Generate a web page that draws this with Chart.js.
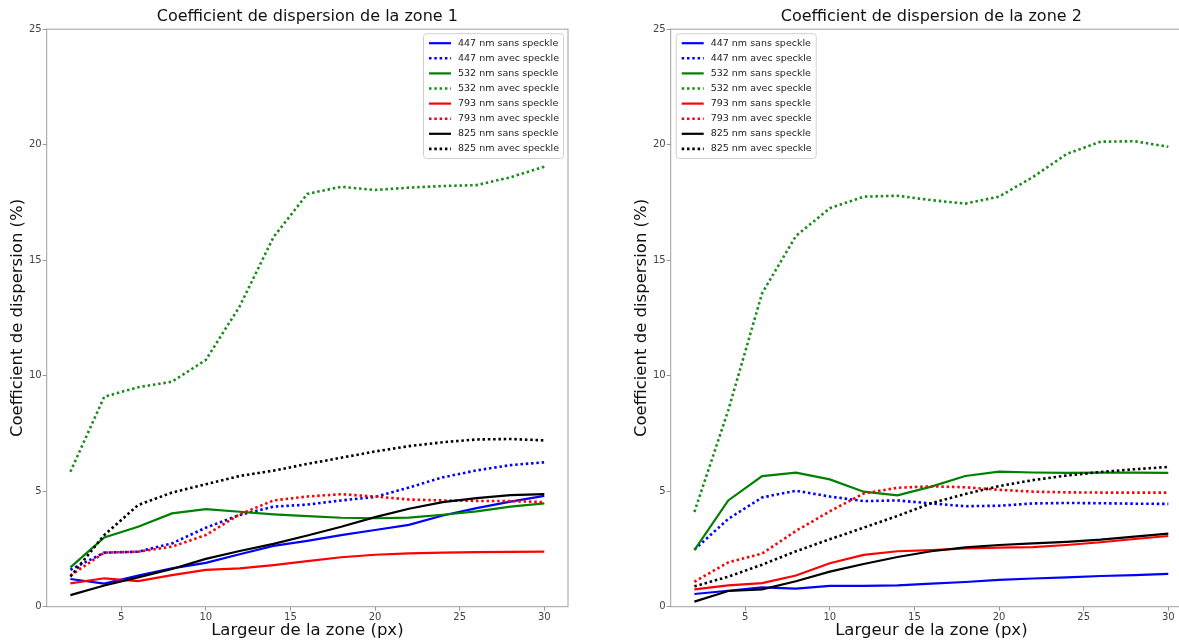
<!DOCTYPE html>
<html>
<head>
<meta charset="utf-8">
<script src="https://cdn.jsdelivr.net/npm/chart.js@4.4.0/dist/chart.umd.min.js"></script>
<style>
html, body { margin: 0; padding: 0; background: #fff; overflow: hidden; }
#wrap { position: relative; width: 1179px; height: 642px; overflow: hidden; }
.box { position: absolute; top: 0; width: 580px; height: 642px; }
#box1 { left: 0; }
#box2 { left: 624px; }
</style>
</head>
<body>
<div id="wrap">
  <div class="box" id="box1"><canvas id="zone1" width="580" height="642"></canvas></div>
  <div class="box" id="box2"><canvas id="zone2" width="580" height="642"></canvas></div>
</div>
<script>
// x values (largeur de la zone, px) and tick labels
const largeurs = [2, 4, 6, 8, 10, 12, 14, 16, 18, 20, 22, 24, 26, 28, 30];
const xTicks = [5, 10, 15, 20, 25, 30];
const yTicks = [0, 5, 10, 15, 20, 25];

// Zone 1
const z1_447_sans = [1.2, 1.0, 1.35, 1.66, 1.9, 2.27, 2.63, 2.85, 3.1, 3.32, 3.54, 3.95, 4.27, 4.55, 4.8];
const z1_447_avec = [1.6, 2.34, 2.38, 2.74, 3.42, 3.97, 4.33, 4.42, 4.6, 4.75, 5.16, 5.6, 5.9, 6.13, 6.25];
const z1_532_sans = [1.7, 3.0, 3.46, 4.04, 4.22, 4.11, 4.0, 3.92, 3.85, 3.83, 3.86, 3.98, 4.13, 4.33, 4.47];
const z1_532_avec = [5.84, 9.09, 9.5, 9.74, 10.68, 13.0, 16.0, 17.87, 18.18, 18.04, 18.14, 18.21, 18.25, 18.59, 19.05];
const z1_793_sans = [1.01, 1.23, 1.11, 1.37, 1.59, 1.66, 1.8, 1.97, 2.14, 2.25, 2.31, 2.34, 2.36, 2.37, 2.38];
const z1_793_avec = [1.35, 2.34, 2.38, 2.6, 3.1, 4.0, 4.6, 4.77, 4.87, 4.77, 4.64, 4.6, 4.58, 4.57, 4.53];
const z1_825_sans = [0.5, 0.92, 1.27, 1.63, 2.07, 2.41, 2.72, 3.08, 3.46, 3.88, 4.24, 4.53, 4.7, 4.83, 4.87];
const z1_825_avec = [1.3, 3.1, 4.4, 4.94, 5.3, 5.66, 5.89, 6.18, 6.45, 6.72, 6.95, 7.12, 7.24, 7.26, 7.2];

// Zone 2
const z2_447_sans = [0.55, 0.69, 0.84, 0.78, 0.9, 0.9, 0.92, 1.0, 1.07, 1.16, 1.22, 1.27, 1.33, 1.37, 1.42];
const z2_447_avec = [2.47, 3.8, 4.73, 5.02, 4.77, 4.57, 4.6, 4.47, 4.35, 4.37, 4.47, 4.49, 4.48, 4.46, 4.45];
const z2_532_sans = [2.45, 4.6, 5.65, 5.8, 5.51, 4.98, 4.82, 5.2, 5.66, 5.85, 5.81, 5.79, 5.8, 5.8, 5.79];
const z2_532_avec = [4.1, 8.5, 13.57, 16.05, 17.25, 17.75, 17.79, 17.6, 17.45, 17.75, 18.6, 19.6, 20.13, 20.15, 19.91];
const z2_793_sans = [0.75, 0.92, 1.02, 1.35, 1.88, 2.24, 2.4, 2.45, 2.52, 2.56, 2.58, 2.67, 2.79, 2.93, 3.06];
const z2_793_avec = [1.08, 1.92, 2.3, 3.28, 4.13, 4.9, 5.15, 5.21, 5.17, 5.06, 4.98, 4.95, 4.94, 4.94, 4.94];
const z2_825_sans = [0.22, 0.68, 0.75, 1.1, 1.52, 1.85, 2.15, 2.4, 2.57, 2.67, 2.74, 2.81, 2.9, 3.03, 3.16];
const z2_825_avec = [0.88, 1.3, 1.82, 2.4, 2.92, 3.42, 3.93, 4.48, 4.88, 5.22, 5.48, 5.68, 5.83, 5.95, 6.05];

const FONT = "'DejaVu Sans', sans-serif";
const DOTS = [2.5, 2.8];

function serie(label, values, color, dotted, i) {
    return {
        label: label,
        data: values.map((v, k) => ({ x: largeurs[k], y: v })),
        borderColor: color,
        backgroundColor: color,
        borderWidth: dotted ? 2.6 : 2.2,
        borderDash: dotted ? DOTS : [],
        pointRadius: 0,
        tension: 0,
        fill: false,
        order: 8 - i // last series on top, like matplotlib
    };
}

function buildSets(s) {
    return [
        serie('447 nm sans speckle', s[0], '#0000ff', false, 0),
        serie('447 nm avec speckle', s[1], '#0000ff', true, 1),
        serie('532 nm sans speckle', s[2], '#008000', false, 2),
        serie('532 nm avec speckle', s[3], '#1a8c1a', true, 3),
        serie('793 nm sans speckle', s[4], '#ff0000', false, 4),
        serie('793 nm avec speckle', s[5], '#ff0000', true, 5),
        serie('825 nm sans speckle', s[6], '#000000', false, 6),
        serie('825 nm avec speckle', s[7], '#000000', true, 7)
    ];
}

// frame around the plot area (drawn above the lines, like the spines)
const frame = {
    id: 'frame',
    afterDatasetsDraw(chart) {
        const { ctx, chartArea: a } = chart;
        ctx.save();
        ctx.strokeStyle = '#a0a0a0';
        ctx.lineWidth = 1;
        ctx.strokeRect(a.left, a.top, a.right - a.left, a.bottom - a.top);
        ctx.restore();
    }
};

// legend drawn inside the plot area
const insideLegend = {
    id: 'insideLegend',
    afterDraw(chart, args, opts) {
        const { ctx, chartArea: a } = chart;
        const sets = chart.data.datasets;
        const rowH = 15.1, boxW = 140, boxH = sets.length * rowH + 4;
        const x0 = opts.side === 'right' ? a.right - 5 - boxW : a.left + 5;
        const y0 = a.top + 4;
        ctx.save();
        ctx.fillStyle = 'rgba(255,255,255,0.85)';
        ctx.strokeStyle = '#d0d0d0';
        ctx.lineWidth = 1;
        ctx.beginPath();
        ctx.roundRect(x0 + 0.5, y0 + 0.5, boxW, boxH, 3);
        ctx.fill();
        ctx.stroke();
        ctx.font = '9.5px ' + FONT;
        ctx.textBaseline = 'middle';
        sets.forEach((ds, i) => {
            const y = y0 + 10 + i * rowH;
            ctx.strokeStyle = ds.borderColor;
            ctx.lineWidth = ds.borderWidth;
            ctx.setLineDash(ds.borderDash);
            ctx.beginPath();
            ctx.moveTo(x0 + 6, y);
            ctx.lineTo(x0 + 28, y);
            ctx.stroke();
            ctx.setLineDash([]);
            ctx.fillStyle = '#222';
            ctx.fillText(ds.label, x0 + 35, y);
        });
        ctx.restore();
    }
};

function makeChart(id, title, series, side) {
    return new Chart(document.getElementById(id), {
        type: 'line',
        data: { datasets: buildSets(series) },
        plugins: [frame, insideLegend],
        options: {
            responsive: false,
            animation: false,
            layout: { padding: { left: 0, right: 12, top: 0, bottom: 0 } },
            plugins: {
                legend: { display: false },
                tooltip: { enabled: false },
                title: {
                    display: true,
                    text: title,
                    fullSize: false,
                    color: '#111',
                    font: { family: FONT, size: 16, weight: 'normal' },
                    padding: { top: 7, bottom: 3 }
                },
                insideLegend: { side: side }
            },
            scales: {
                x: {
                    type: 'linear',
                    min: 0.6,
                    max: 31.4,
                    afterBuildTicks: s => { s.ticks = xTicks.map(v => ({ value: v })); },
                    afterFit: s => { s.height = 35.3; },
                    ticks: { font: { family: FONT, size: 10 }, color: '#444', padding: 1, maxRotation: 0, autoSkip: false },
                    grid: { display: true, drawOnChartArea: false, drawTicks: true, tickLength: 4, color: '#999' },
                    border: { display: false },
                    title: {
                        display: true,
                        text: 'Largeur de la zone (px)',
                        color: '#111',
                        font: { family: FONT, size: 16.5 },
                        padding: { top: 0, bottom: 1 }
                    }
                },
                y: {
                    min: 0,
                    max: 25,
                    afterBuildTicks: s => { s.ticks = yTicks.map(v => ({ value: v })); },
                    afterFit: s => { s.width = 46.7; },
                    ticks: { font: { family: FONT, size: 10 }, color: '#444', padding: 1 },
                    grid: { display: true, drawOnChartArea: false, drawTicks: true, tickLength: 4, color: '#999' },
                    border: { display: false },
                    title: {
                        display: true,
                        text: 'Coefficient de dispersion (%)',
                        color: '#111',
                        font: { family: FONT, size: 16.5 },
                        padding: { top: 8, bottom: 0 }
                    }
                }
            }
        }
    });
}

makeChart('zone1', 'Coefficient de dispersion de la zone 1',
    [z1_447_sans, z1_447_avec, z1_532_sans, z1_532_avec, z1_793_sans, z1_793_avec, z1_825_sans, z1_825_avec], 'right');
makeChart('zone2', 'Coefficient de dispersion de la zone 2',
    [z2_447_sans, z2_447_avec, z2_532_sans, z2_532_avec, z2_793_sans, z2_793_avec, z2_825_sans, z2_825_avec], 'left');
</script>
</body>
</html>
